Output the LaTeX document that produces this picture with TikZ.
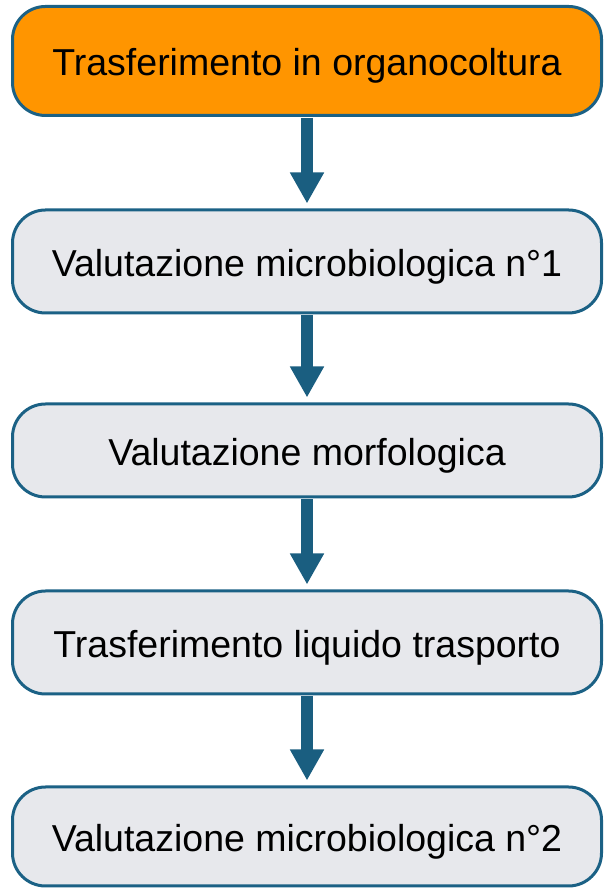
\documentclass[tikz,border=0pt]{standalone}
\usepackage{fontspec}
\setmainfont{Liberation Sans}
\usetikzlibrary{arrows.meta}
\definecolor{bordc}{HTML}{1B6185}
\definecolor{arrc}{HTML}{1A5E80}
\definecolor{orng}{HTML}{FF9500}
\definecolor{greyf}{HTML}{E7E8EC}
\tikzset{
  stepbox/.style={draw=bordc, line width=3pt, rounded corners=33pt, minimum width=589pt,
    inner sep=0pt, font=\fontsize{37.5}{44}\selectfont, text height=30pt, text depth=0pt},
  flowarr/.style={draw=arrc, line width=12pt, -{Triangle[width=32pt,length=31pt]}, shorten >=5pt, shorten <=1pt}
}
\begin{document}
\begin{tikzpicture}[x=1pt,y=1pt]
\useasboundingbox (0,0) rectangle (606,890);
\node[stepbox, fill=orng, minimum height=109pt] (b1) at (307,829) {Trasferimento in organocoltura};
\node[stepbox, fill=greyf, minimum height=103pt] (b2) at (307,628.5) {Valutazione microbiologica n°1};
\node[stepbox, fill=greyf, minimum height=93pt] (b3) at (307,439.5) {Valutazione morfologica};
\node[stepbox, fill=greyf, minimum height=103pt] (b4) at (307,247.5) {Trasferimento liquido trasporto};
\node[stepbox, fill=greyf, minimum height=99pt] (b5) at (307,53.5) {Valutazione microbiologica n°2};
\draw[flowarr] (b1.south) -- (b2.north);
\draw[flowarr] (b2.south) -- (b3.north);
\draw[flowarr] (b3.south) -- (b4.north);
\draw[flowarr] (b4.south) -- (b5.north);
\end{tikzpicture}
\end{document}
